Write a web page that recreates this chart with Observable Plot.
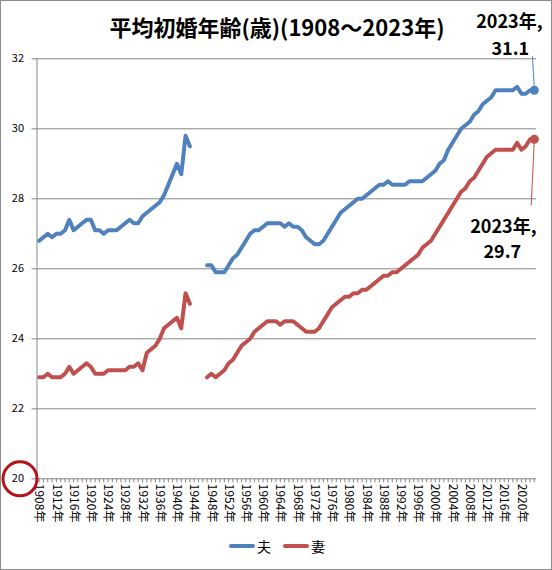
<!DOCTYPE html>
<html>
<head>
<meta charset="utf-8">
<script src="https://cdn.jsdelivr.net/npm/d3@7"></script>
<script src="https://cdn.jsdelivr.net/npm/@observablehq/plot@0.6"></script>
<style>
  body { margin: 0; background: #fff; }
  #chart { position: relative; width: 550px; height: 568px; border: 1px solid #8c8c8c; background: #fff;
           font-family: "Noto Sans CJK JP", "Noto Sans", sans-serif; overflow: hidden; }
  #title { position: absolute; left: 0; top: 13px; width: 552px; text-align: center; font-size: 22px;
           line-height: 24px; font-weight: bold; color: #000; white-space: nowrap; }
  #plot { position: absolute; left: 0; top: 0; }
  #legend { position: absolute; left: 0; top: 535px; width: 552px; display: flex; justify-content: center;
            align-items: center; font-size: 14px; color: #000; }
  #legend .sw { display: inline-block; width: 26px; height: 4px; border-radius: 2px; margin-right: 2px; }
  #legend .item { display: inline-flex; align-items: center; margin: 0 6px; }
</style>
</head>
<body>
<div id="chart">
  <div id="plot"></div>
  <div id="title">平均初婚年齢(歳)(1908～2023年)</div>
  <div id="legend"></div>
</div>
<script>
// ---- data ----
const seriesNames = ["夫", "妻"];
const seriesColors = ["#4F81BD", "#C0504D"];

// 1908–1943
const prewarStart = 1908;
const husbandPrewar = [26.8, 26.9, 27.0, 26.9, 27.0, 27.0, 27.1, 27.4, 27.1, 27.2,
                       27.3, 27.4, 27.4, 27.1, 27.1, 27.0, 27.1, 27.1, 27.1, 27.2,
                       27.3, 27.4, 27.3, 27.3, 27.5, 27.6, 27.7, 27.8, 27.9, 28.1,
                       28.4, 28.7, 29.0, 28.7, 29.8, 29.5];
const wifePrewar    = [22.9, 22.9, 23.0, 22.9, 22.9, 22.9, 23.0, 23.2, 23.0, 23.1,
                       23.2, 23.3, 23.2, 23.0, 23.0, 23.0, 23.1, 23.1, 23.1, 23.1,
                       23.1, 23.2, 23.2, 23.3, 23.1, 23.6, 23.7, 23.8, 24.0, 24.3,
                       24.4, 24.5, 24.6, 24.3, 25.3, 25.0];
// 1947–2023
const postwarStart = 1947;
const husbandPostwar = [26.1, 26.1, 25.9, 25.9, 25.9, 26.1, 26.3, 26.4, 26.6, 26.8,
                        27.0, 27.1, 27.1, 27.2, 27.3, 27.3, 27.3, 27.3, 27.2, 27.3,
                        27.2, 27.2, 27.1, 26.9, 26.8, 26.7, 26.7, 26.8, 27.0, 27.2,
                        27.4, 27.6, 27.7, 27.8, 27.9, 28.0, 28.0, 28.1, 28.2, 28.3,
                        28.4, 28.4, 28.5, 28.4, 28.4, 28.4, 28.4, 28.5, 28.5, 28.5,
                        28.5, 28.6, 28.7, 28.8, 29.0, 29.1, 29.4, 29.6, 29.8, 30.0,
                        30.1, 30.2, 30.4, 30.5, 30.7, 30.8, 30.9, 31.1, 31.1, 31.1,
                        31.1, 31.1, 31.2, 31.0, 31.0, 31.1, 31.1];
const wifePostwar    = [22.9, 23.0, 22.9, 23.0, 23.1, 23.3, 23.4, 23.6, 23.8, 23.9,
                        24.0, 24.2, 24.3, 24.4, 24.5, 24.5, 24.5, 24.4, 24.5, 24.5,
                        24.5, 24.4, 24.3, 24.2, 24.2, 24.2, 24.3, 24.5, 24.7, 24.9,
                        25.0, 25.1, 25.2, 25.2, 25.3, 25.3, 25.4, 25.4, 25.5, 25.6,
                        25.7, 25.8, 25.8, 25.9, 25.9, 26.0, 26.1, 26.2, 26.3, 26.4,
                        26.6, 26.7, 26.8, 27.0, 27.2, 27.4, 27.6, 27.8, 28.0, 28.2,
                        28.3, 28.5, 28.6, 28.8, 29.0, 29.2, 29.3, 29.4, 29.4, 29.4,
                        29.4, 29.4, 29.6, 29.4, 29.5, 29.7, 29.7];

const firstYear = 1908, lastYear = 2023;
const yTicks = [20, 22, 24, 26, 28, 30, 32];
const xLabelYears = [1908, 1912, 1916, 1920, 1924, 1928, 1932, 1936, 1940, 1944, 1948, 1952,
                     1956, 1960, 1964, 1968, 1972, 1976, 1980, 1984, 1988, 1992, 1996, 2000,
                     2004, 2008, 2012, 2016, 2020];

// ---- build table ----
const years = d3.range(firstYear, lastYear + 1);
const rows = years.map(yr => {
  let h = NaN, w = NaN;
  if (yr >= prewarStart && yr < prewarStart + husbandPrewar.length) {
    h = husbandPrewar[yr - prewarStart]; w = wifePrewar[yr - prewarStart];
  } else if (yr >= postwarStart) {
    h = husbandPostwar[yr - postwarStart]; w = wifePostwar[yr - postwarStart];
  }
  return {year: yr, husband: h, wife: w};
});
const last = rows.filter(d => d.year === lastYear);

const font = '"Noto Sans CJK JP", "Noto Sans", sans-serif';
const grid = "#868686";

const chart = Plot.plot({
  width: 550,
  height: 530,
  marginLeft: 35.5,
  marginRight: 15,
  marginTop: 57.3,
  marginBottom: 52.7,
  x: {type: "linear", domain: [firstYear - 0.5, lastYear + 0.5]},
  y: {domain: [20, 32]},
  style: {fontFamily: font, fontSize: "11px", color: "#000", background: "transparent", overflow: "visible"},
  marks: [
    Plot.ruleY(yTicks, {stroke: grid, strokeWidth: 1}),
    Plot.frame({anchor: "left", stroke: grid}),
    Plot.axisY({ticks: yTicks, tickSize: 5, tickPadding: 8, stroke: grid, fill: "#000",
                fontSize: 11, label: null, tickFormat: d => String(d)}),
    Plot.axisX({ticks: years, tickSize: 4, stroke: grid, tickFormat: () => "", label: null}),
    Plot.axisX({ticks: xLabelYears, tickSize: 0, tickPadding: 5, tickRotate: 90, fill: "#000",
                fontSize: 12, label: null, tickFormat: d => d + "年"}),
    Plot.line(rows, {x: "year", y: "husband", stroke: seriesColors[0], strokeWidth: 4,
                     strokeLinejoin: "round", strokeLinecap: "round"}),
    Plot.line(rows, {x: "year", y: "wife", stroke: seriesColors[1], strokeWidth: 4,
                     strokeLinejoin: "round", strokeLinecap: "round"}),
    // leader lines
    Plot.link(last, {x1: "year", y1: "husband", x2: d => d.year - 0.43, y2: d => d.husband + 0.97,
                     stroke: seriesColors[0], strokeWidth: 1}),
    Plot.link(last, {x1: "year", y1: "wife", x2: d => d.year - 0.73, y2: d => d.wife - 1.89,
                     stroke: seriesColors[1], strokeWidth: 1}),
    Plot.dot(last, {x: "year", y: "husband", r: 4.5, fill: seriesColors[0]}),
    Plot.dot(last, {x: "year", y: "wife", r: 4.5, fill: seriesColors[1]}),
    // labels
    Plot.text(last, {x: "year", y: "husband", text: d => d.year + "年,", dx: -25, dy: -68,
                     fontSize: 18, fontWeight: "bold", fill: "#000", fontFamily: font}),
    Plot.text(last, {x: "year", y: "husband", text: d => d.husband.toFixed(1), dx: -24, dy: -41,
                     fontSize: 18, fontWeight: "bold", fill: "#000", fontFamily: font}),
    Plot.text(last, {x: "year", y: "wife", text: d => d.year + "年,", dx: -31, dy: 88,
                     fontSize: 18, fontWeight: "bold", fill: "#000", fontFamily: font}),
    Plot.text(last, {x: "year", y: "wife", text: d => d.wife.toFixed(1), dx: -32, dy: 113,
                     fontSize: 18, fontWeight: "bold", fill: "#000", fontFamily: font}),
    // red circle highlighting the axis minimum
    Plot.dot([0], {frameAnchor: "bottom-left", dx: -17, r: 17, stroke: "#B5121B", strokeWidth: 3, fill: "none"})
  ]
});
document.getElementById("plot").appendChild(chart);

// legend
const legend = document.getElementById("legend");
seriesNames.forEach((name, i) => {
  const item = document.createElement("span");
  item.className = "item";
  item.innerHTML = `<span class="sw" style="background:${seriesColors[i]}"></span><span>${name}</span>`;
  legend.appendChild(item);
});
</script>
</body>
</html>
